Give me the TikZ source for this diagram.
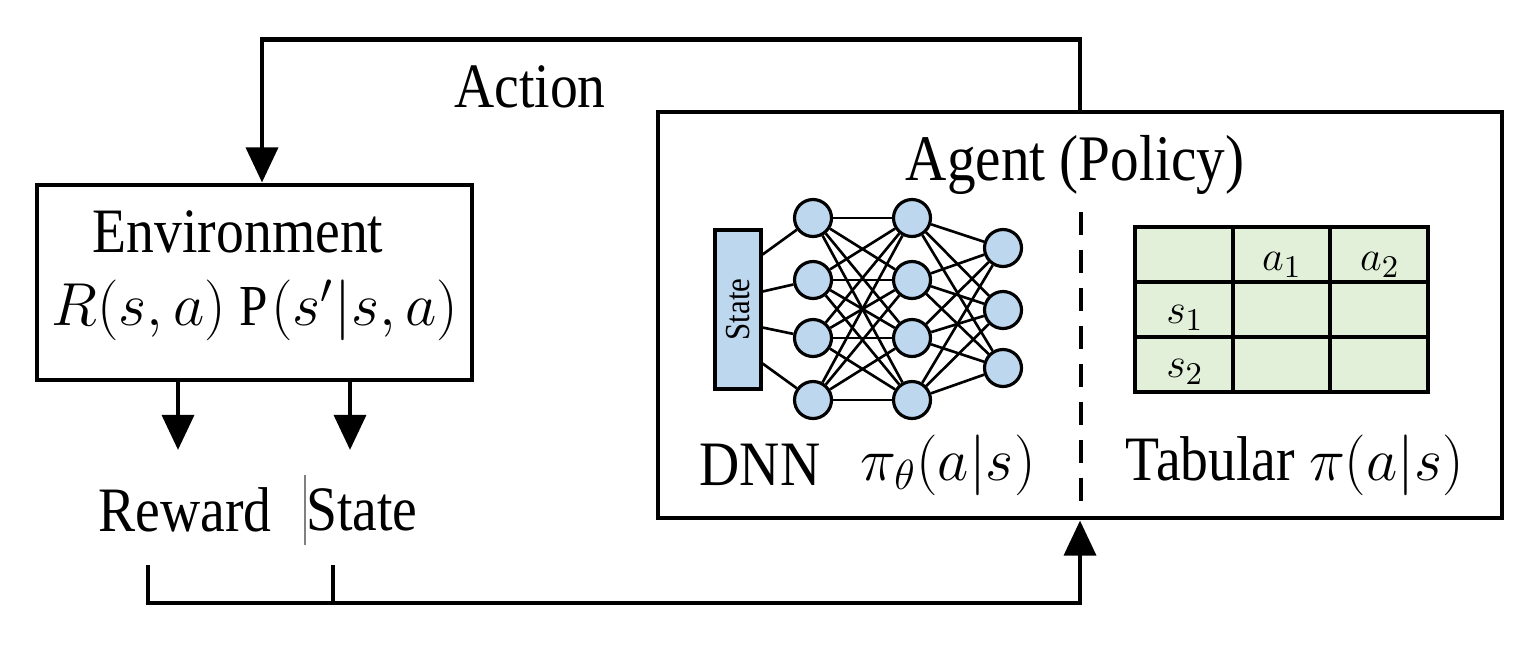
\documentclass[tikz,border=0pt]{standalone}
\usepackage{amsmath}
\usepackage{fontspec}
\setmainfont[FakeStretch=0.88]{Liberation Serif}
\usetikzlibrary{arrows.meta}

\definecolor{nnblue}{HTML}{BDD7EE}
\definecolor{tabgreen}{HTML}{E2F0D9}

\begin{document}
\begin{tikzpicture}[font=\fontsize{18}{21}\selectfont]
\useasboundingbox (0,0) rectangle (15.22,6.51);

\begin{scope}[every node/.style={rectangle,draw=black,line width=1.4pt}]
    \node[minimum width=4.35cm,minimum height=1.95cm] (env) at (2.545,3.685) {};
    \node[minimum width=8.44cm,minimum height=4.06cm] (agent) at (10.80,3.36) {};
    \end{scope}

% texts
\node (envtitle) at (2.38,4.19) {Environment};
\node (envfun) at (2.55,3.41) {\fontsize{16.5}{19}\selectfont$R(s,a)\ \mathrm{P}(s'|s,a)$};
\node (action) at (5.30,5.64) {Action};
\node (agtitle) at (10.75,4.86) {\fontsize{18.5}{21}\selectfont Agent (Policy)};
\node (reward) at (1.85,1.41) {Reward};
\node (state) at (3.62,1.41) {State};
\node (dnn) at (7.60,1.86) {DNN};
\node (pitheta) at (9.48,1.86) {\fontsize{16.5}{19}\selectfont$\pi_\theta(a|s)$};
\node (tabular) at (12.95,1.86) {Tabular \fontsize{16.5}{19}\selectfont$\pi(a|s)$};
\draw[gray,line width=0.3pt] (3.05,1.76) -- (3.05,1.06);

% DNN
\begin{scope}[every node/.style={circle,draw=black,line width=0.9pt,fill=nnblue,minimum size=0.37cm,inner sep=0pt}]
    \foreach \i/\y in {1/4.33,2/3.71,3/3.13,4/2.51} {
        \node (h1-\i) at (8.13,\y) {};
        \node (h2-\i) at (9.12,\y) {};
    }
    \foreach \i/\y in {1/4.03,2/3.41,3/2.83}
        \node (out-\i) at (10.03,\y) {};
    \end{scope}
\node[rectangle,draw=black,line width=0.9pt,fill=nnblue,minimum width=0.46cm,minimum height=1.59cm,inner sep=0pt] (stvec) at (7.38,3.415) {};
\node[rotate=90,font=\fontsize{10}{11}\selectfont] (stlbl) at (stvec) {State};

\begin{scope}[line width=0.75pt]
    \foreach \i/\dy in {1/0.55,2/0.18,3/-0.18,4/-0.54}
        \draw ([yshift=\dy cm]stvec.east) -- (h1-\i);
    \foreach \i in {1,...,4} {
        \foreach \j in {1,...,4}
            \draw (h1-\i) -- (h2-\j);
        \foreach \j in {1,...,3}
            \draw (h2-\i) -- (out-\j);
    }
    \end{scope}

% divider
\draw[line width=1.1pt,dash pattern=on 6.5pt off 4.3pt] (10.81,4.39) -- (10.81,1.45);

% table
\draw[fill=tabgreen,line width=1pt] (11.35,2.59) rectangle (14.28,4.24);
\foreach \x in {12.33,13.30}
    \draw[line width=1pt] (\x,2.59) -- (\x,4.24);
\foreach \y in {3.14,3.69}
    \draw[line width=1pt] (11.35,\y) -- (14.28,\y);
\begin{scope}[every node/.style={font=\fontsize{12.5}{14}\selectfont}]
    \node (a1) at (12.82,3.86) {$a_1$};
    \node (a2) at (13.80,3.86) {$a_2$};
    \node (s1) at (11.85,3.33) {$s_1$};
    \node (s2) at (11.85,2.79) {$s_2$};
    \end{scope}

% loop
\coordinate (rwdtip) at (1.78,2.01);
\coordinate (sttip) at (3.50,2.01);
\coordinate (rwdout) at (1.48,0.86);
\coordinate (stout) at (3.33,0.86);

\begin{scope}[>={Triangle[length=10pt,width=9pt]},
              every path/.style={draw=black,line width=1.4pt}]
    \path [->] (agent.north) -- ++(0,0.70) -| ([xshift=0.75mm]env.north);
    \path [->] (env.south -| rwdtip) -- (rwdtip);
    \path [->] (env.south -| sttip) -- (sttip);
    \path [->] (rwdout) -- ++(0,-0.38) -| (agent.south);
    \path (stout) -- ++(0,-0.38);
    \end{scope}

\end{tikzpicture}
\end{document}
